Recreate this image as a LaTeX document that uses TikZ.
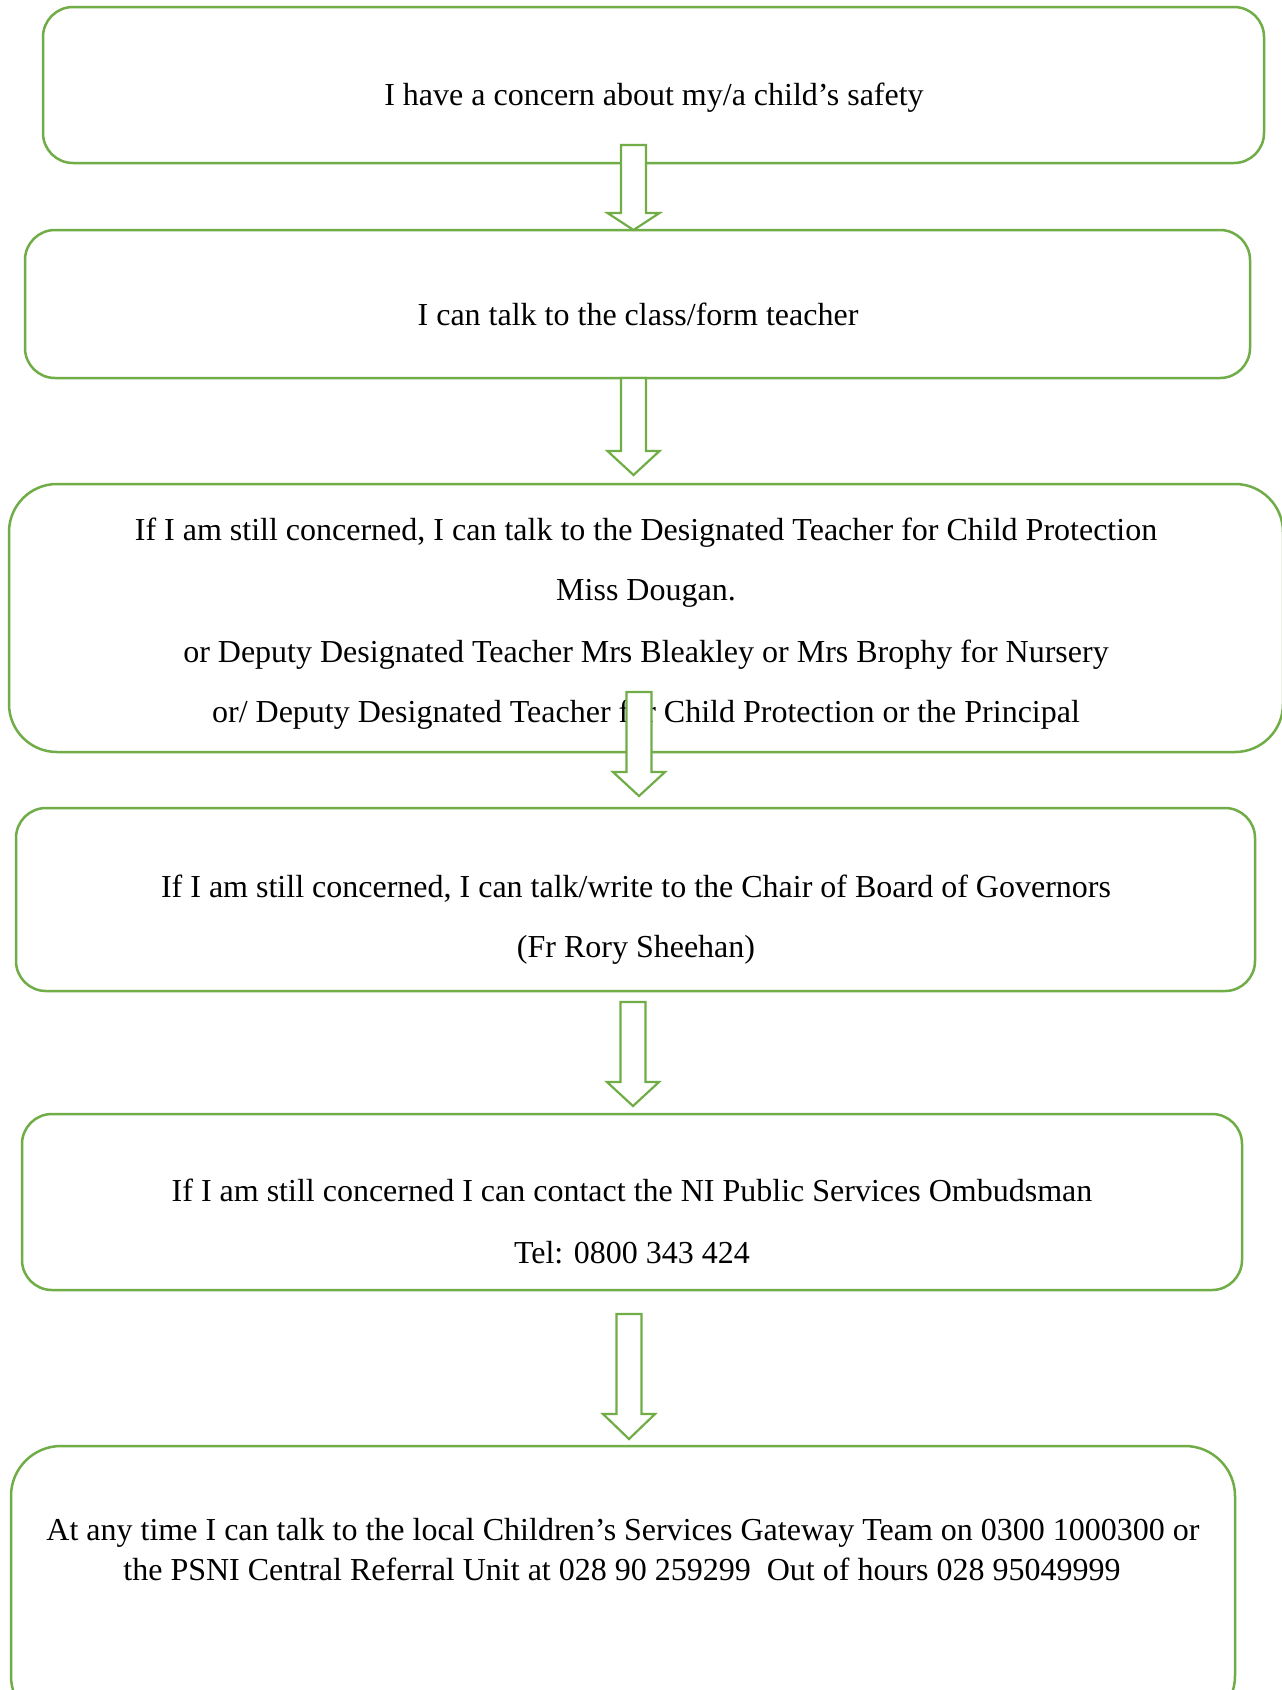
\documentclass[tikz,border=0pt]{standalone}
\usepackage{fontspec}
\setmainfont{Liberation Serif}
\definecolor{boxgreen}{HTML}{70AD47}
\newcommand\blkarrow[5]{% name, x, top, headbase, tip
  \coordinate (#1top) at (#2,#3);
  \coordinate (#1tip) at (#2,#5);
  \draw[arrowshape] ($(#1top)+(-12.5,0)$) -- ($(#1top)+(12.5,0)$) -- (#2+12.5,#4) -- (#2+26,#4) -- (#1tip) -- (#2-26,#4) -- (#2-12.5,#4) -- cycle;}
\usetikzlibrary{calc}
\begin{document}
\begin{tikzpicture}[x=1pt,y=-1pt,
  box/.style={draw=boxgreen,line width=2.5pt,fill=white,rectangle,inner sep=0pt,outer sep=0pt,rounded corners=30pt},
  arrowshape/.style={draw=boxgreen,line width=2.2pt,fill=white,line join=miter},
  txt/.style={font=\fontsize{32}{38}\selectfont,anchor=base,inner sep=0pt}]
\useasboundingbox (0,0) rectangle (1282,1690);
\clip (0,0) rectangle (1282,1690);
\fill[white] (0,0) rectangle (1282,1690);
% boxes
\node[box,minimum width=1221pt,minimum height=156pt] (b1) at (653.5,85) {};
\node[box,minimum width=1225pt,minimum height=148pt] (b2) at (637.5,304) {};
\node[box,rounded corners=48pt,minimum width=1274pt,minimum height=268pt] (b3) at (646,618) {};
\node[box,minimum width=1239pt,minimum height=183pt] (b4) at (635.5,899.5) {};
\node[box,minimum width=1220pt,minimum height=176pt] (b5) at (632,1202) {};
\node[box,rounded corners=50pt,minimum width=1224pt,minimum height=280pt] (b6) at (623,1586) {};
% texts
\node[txt] (t1) at (654,105) {I have a concern about my/a child’s safety};
\node[txt] (t2) at (638,325) {I can talk to the class/form teacher};
\node[txt] (t3a) at (646,540) {If I am still concerned, I can talk to the Designated Teacher for Child Protection};
\node[txt] (t3b) at (646,600) {Miss Dougan.};
\node[txt] (t3c) at (646,662) {or Deputy Designated Teacher Mrs Bleakley or Mrs Brophy for Nursery};
\node[txt] (t3d) at (646,722) {or/ Deputy Designated Teacher for Child Protection or the Principal};
\node[txt] (t4a) at (636,897) {If I am still concerned, I can talk/write to the Chair of Board of Governors};
\node[txt] (t4b) at (636,957) {(Fr Rory Sheehan)};
\node[txt] (t5a) at (632,1201) {If I am still concerned I can contact the NI Public Services Ombudsman};
\node[txt] (t5b) at (632,1263) {Tel: 0800 343 424};
\node[txt] (t6a) at (623,1540) {At any time I can talk to the local Children’s Services Gateway Team on 0300 1000300 or};
\node[txt] (t6b) at (622,1580) {the PSNI Central Referral Unit at 028 90 259299\ \ Out of hours 028 95049999};
% arrows
\blkarrow{a1}{633.5}{145}{213}{230}
\blkarrow{a2}{633.5}{378}{451}{475}
\blkarrow{a3}{639}{692}{772}{796}
\blkarrow{a4}{633}{1002}{1082}{1106}
\blkarrow{a5}{629}{1314}{1414}{1439}
\end{tikzpicture}
\end{document}
